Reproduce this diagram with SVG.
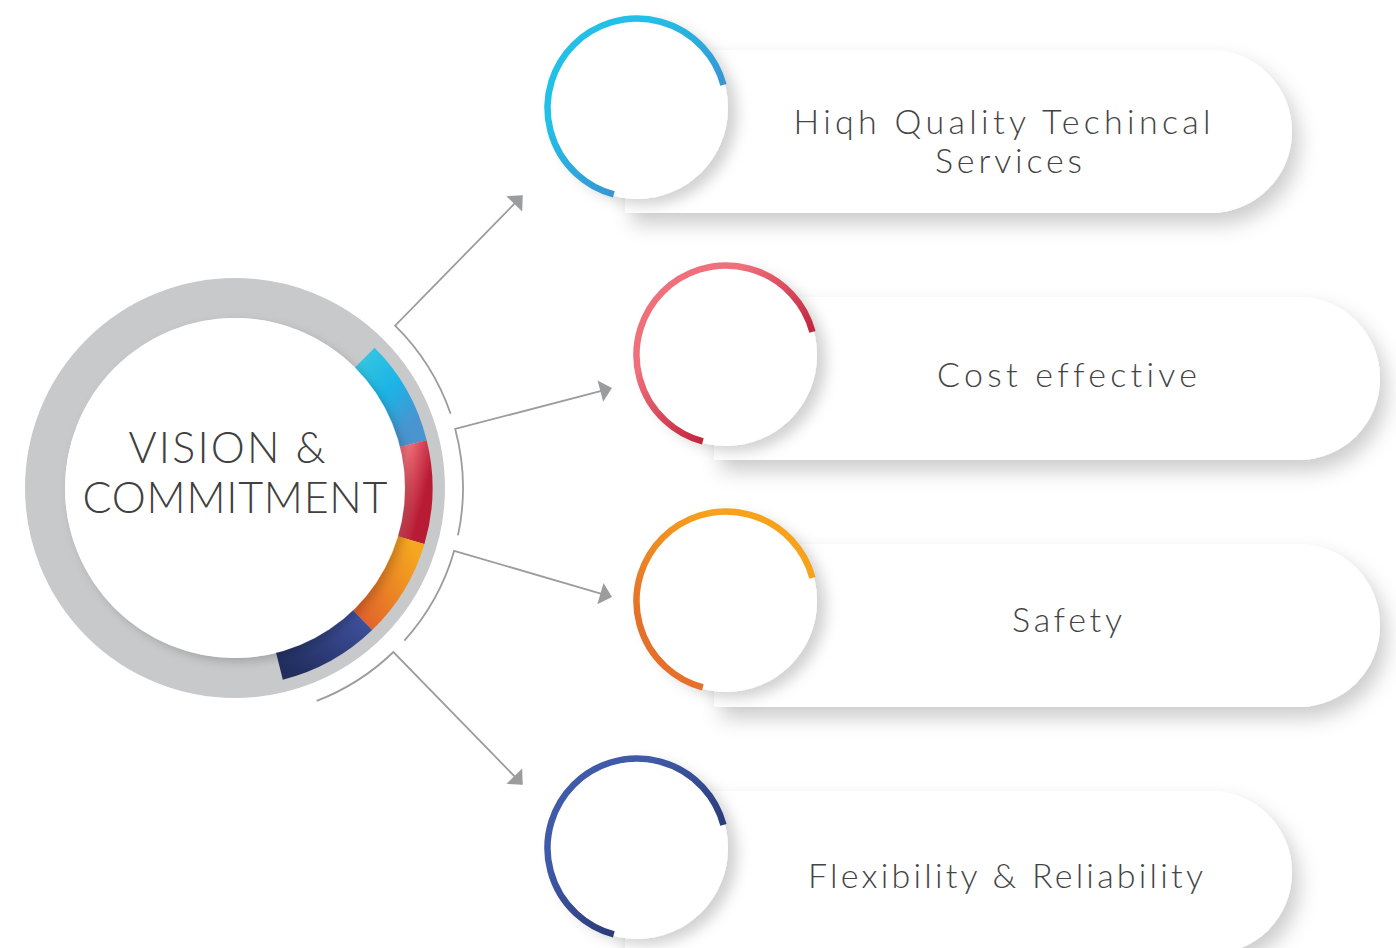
<svg xmlns="http://www.w3.org/2000/svg" width="1396" height="948" viewBox="0 0 1396 948">
<defs>
<style>
.lbl{font-family:Lato,"Liberation Sans",Arial,sans-serif;font-weight:300;font-size:34px;fill:#444;text-anchor:middle;font-variant-ligatures:none;font-feature-settings:"liga" 0}
.ctr{font-family:Lato,"Liberation Sans",Arial,sans-serif;font-weight:300;font-size:43px;fill:#404040;text-anchor:middle;font-variant-ligatures:none;font-feature-settings:"liga" 0}
.pill{fill:#fff;filter:url(#pshadow)}
.disc{fill:#fff;filter:url(#cshadow)}
.arc{fill:none;stroke-width:6.5;stroke-linecap:butt}
.seg{fill:none;stroke-width:29;stroke-linecap:butt}
.conn{fill:none;stroke:#9b9c9e;stroke-width:1.8;marker-end:url(#ah)}
</style>
<filter id="pshadow" x="-10%" y="-30%" width="125%" height="170%">
<feDropShadow dx="7" dy="11" stdDeviation="10" flood-color="#000" flood-opacity="0.2"/>
</filter>
<filter id="cshadow" x="-30%" y="-30%" width="170%" height="170%">
<feDropShadow dx="9" dy="6" stdDeviation="7" flood-color="#000" flood-opacity="0.18"/>
</filter>
<filter id="ishadow" x="-20%" y="-20%" width="140%" height="140%">
<feDropShadow dx="4" dy="4" stdDeviation="5" flood-color="#000" flood-opacity="0.18"/>
</filter>
<marker id="ah" markerUnits="userSpaceOnUse" markerWidth="13" markerHeight="22" viewBox="0 0 12 22" refX="11" refY="11" orient="auto">
<path d="M0,0 L12,11 L0,22 Z" fill="#9b9c9e"/>
</marker>
<linearGradient id="gBlue" x1="0" y1="0" x2="1" y2="1"><stop offset="0.3" stop-color="#22bfe6"/><stop offset="0.75" stop-color="#3a8fd3"/></linearGradient>
<linearGradient id="gRed" x1="0" y1="0" x2="1" y2="1"><stop offset="0.3" stop-color="#ef6f7b"/><stop offset="0.78" stop-color="#b8142f"/></linearGradient>
<linearGradient id="gOrange" x1="1" y1="0" x2="0" y2="1"><stop offset="0.3" stop-color="#f7a21b"/><stop offset="0.8" stop-color="#e5702a"/></linearGradient>
<linearGradient id="gNavy" x1="0" y1="0" x2="1" y2="1"><stop offset="0.3" stop-color="#3f5aa9"/><stop offset="0.8" stop-color="#26336d"/></linearGradient>
<linearGradient id="sCyan" x1="0" y1="0" x2="0.6" y2="1"><stop offset="0" stop-color="#33c4e0"/><stop offset="0.5" stop-color="#1bb4e6"/><stop offset="1" stop-color="#4a94cf"/></linearGradient>
<linearGradient id="sRed" x1="0" y1="0" x2="0.3" y2="1"><stop offset="0" stop-color="#ee6a75"/><stop offset="1" stop-color="#b81b34"/></linearGradient>
<linearGradient id="sOrange" x1="1" y1="0" x2="0" y2="1"><stop offset="0" stop-color="#f5a81f"/><stop offset="1" stop-color="#e2632a"/></linearGradient>
<linearGradient id="sNavy" x1="1" y1="0" x2="0" y2="1"><stop offset="0" stop-color="#3e509c"/><stop offset="1" stop-color="#202d5d"/></linearGradient>
</defs>
<rect width="1396" height="948" fill="#fff"/>

<g id="connectors">
<path class="conn" d="M 450.6 413.8 A 228 228 0 0 0 395.1 325.7 L 522 196"/>
<path class="conn" d="M 458.0 535.4 A 228 228 0 0 0 455.2 429.0 L 611 388.3"/>
<path class="conn" d="M 404.4 640.6 A 228 228 0 0 0 454.2 550.8 L 611 596.7"/>
<path class="conn" d="M 316.7 700.9 A 228 228 0 0 0 393.4 652.0 L 522 784"/>
</g>

<g id="center">
<circle cx="235" cy="488" r="190" fill="none" stroke="#c8c9cb" stroke-width="40"/>
<path class="seg" stroke="url(#sCyan)" d="M 364.4 357.9 A 183 183 0 0 1 412.6 443.7"/>
<path class="seg" stroke="url(#sRed)" d="M 412.6 443.7 A 183 183 0 0 1 410.5 540.0"/>
<path class="seg" stroke="url(#sOrange)" d="M 410.5 540.0 A 183 183 0 0 1 362.1 619.6"/>
<path class="seg" stroke="url(#sNavy)" d="M 362.1 619.6 A 183 183 0 0 1 279.3 665.6"/>
<circle cx="235" cy="488" r="170" fill="#fff" filter="url(#ishadow)"/>
<text class="ctr" x="227" y="463" textLength="197" lengthAdjust="spacing">VISION &amp;</text>
<text class="ctr" x="235" y="513" textLength="305" lengthAdjust="spacing">COMMITMENT</text>
</g>

<g id="node1">
<path class="pill" d="M 625 50 H 1210.5 A 81.5 81.5 0 0 1 1210.5 213 H 625 Z"/>
<circle class="disc" cx="637" cy="108" r="91"/>
<path class="arc" stroke="url(#gBlue)" d="M 723.45 84.83 A 89.5 89.5 0 1 0 613.83 194.45"/>
<text class="lbl" x="1002" y="134" textLength="417" lengthAdjust="spacing">Hiqh Quality Techincal</text>
<text class="lbl" x="1008.5" y="173" textLength="147" lengthAdjust="spacing">Services</text>
</g>

<g id="node2">
<path class="pill" d="M 714 297 H 1298.5 A 81.5 81.5 0 0 1 1298.5 460 H 714 Z"/>
<circle class="disc" cx="726" cy="355" r="91"/>
<path class="arc" stroke="url(#gRed)" d="M 812.45 331.83 A 89.5 89.5 0 1 0 702.83 441.45"/>
<text class="lbl" x="1067" y="387" textLength="260" lengthAdjust="spacing">Cost effective</text>
</g>

<g id="node3">
<path class="pill" d="M 714 544 H 1298.5 A 81.5 81.5 0 0 1 1298.5 707 H 714 Z"/>
<circle class="disc" cx="726" cy="601" r="91"/>
<path class="arc" stroke="url(#gOrange)" d="M 812.45 577.83 A 89.5 89.5 0 1 0 702.83 687.45"/>
<text class="lbl" x="1067" y="632" textLength="110" lengthAdjust="spacing">Safety</text>
</g>

<g id="node4">
<path class="pill" d="M 625 791 H 1210.5 A 81.5 81.5 0 0 1 1210.5 954 H 625 Z"/>
<circle class="disc" cx="637" cy="848" r="91"/>
<path class="arc" stroke="url(#gNavy)" d="M 723.45 824.83 A 89.5 89.5 0 1 0 613.83 934.45"/>
<text class="lbl" x="1005.5" y="888" textLength="395" lengthAdjust="spacing">Flexibility &amp; Reliability</text>
</g>
</svg>
